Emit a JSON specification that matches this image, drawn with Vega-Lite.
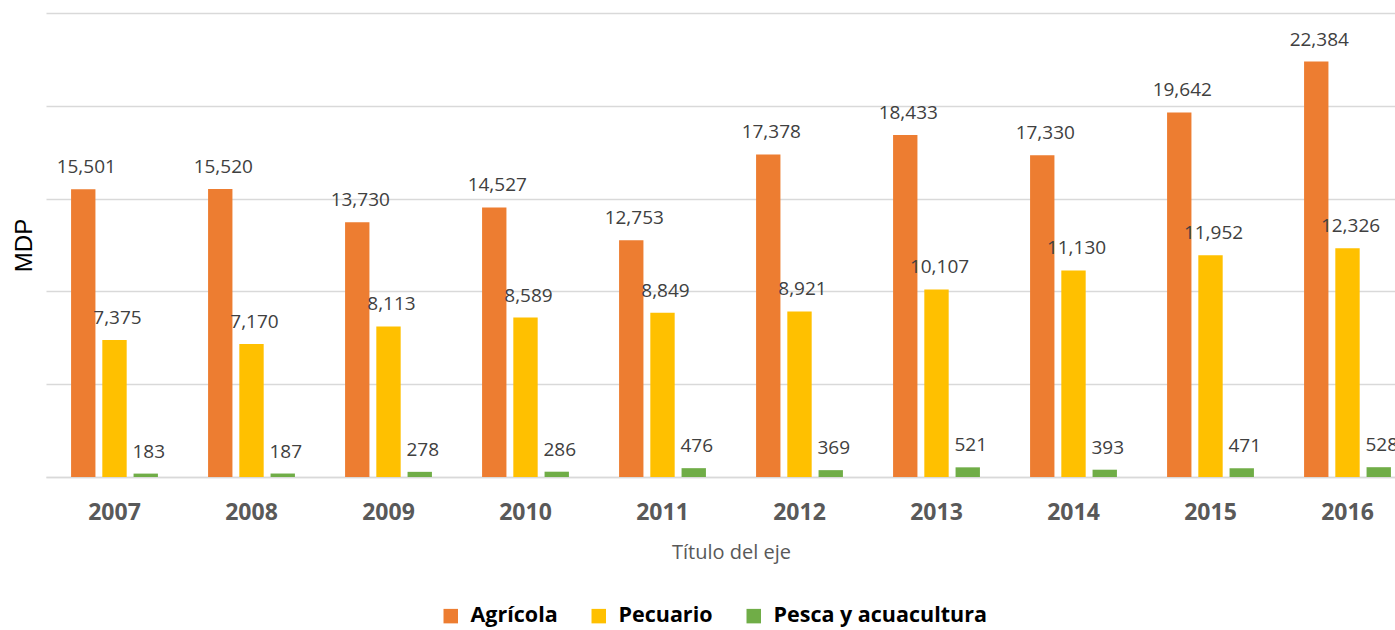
{
  "$schema": "https://vega.github.io/schema/vega-lite/v6.json",
  "width": 1349,
  "height": 464,
  "autosize": {"type": "none"},
  "padding": {"left": 46, "top": 13, "right": 0, "bottom": 153},
  "background": "white",
  "config": {
    "view": {"stroke": null},
    "font": "Open Sans"
  },
  "data": {
    "values": [
      {"year": "2007", "serie": "Agrícola", "value": 15501},
      {"year": "2007", "serie": "Pecuario", "value": 7375},
      {"year": "2007", "serie": "Pesca y acuacultura", "value": 183},
      {"year": "2008", "serie": "Agrícola", "value": 15520},
      {"year": "2008", "serie": "Pecuario", "value": 7170},
      {"year": "2008", "serie": "Pesca y acuacultura", "value": 187},
      {"year": "2009", "serie": "Agrícola", "value": 13730},
      {"year": "2009", "serie": "Pecuario", "value": 8113},
      {"year": "2009", "serie": "Pesca y acuacultura", "value": 278},
      {"year": "2010", "serie": "Agrícola", "value": 14527},
      {"year": "2010", "serie": "Pecuario", "value": 8589},
      {"year": "2010", "serie": "Pesca y acuacultura", "value": 286},
      {"year": "2011", "serie": "Agrícola", "value": 12753},
      {"year": "2011", "serie": "Pecuario", "value": 8849},
      {"year": "2011", "serie": "Pesca y acuacultura", "value": 476},
      {"year": "2012", "serie": "Agrícola", "value": 17378},
      {"year": "2012", "serie": "Pecuario", "value": 8921},
      {"year": "2012", "serie": "Pesca y acuacultura", "value": 369},
      {"year": "2013", "serie": "Agrícola", "value": 18433},
      {"year": "2013", "serie": "Pecuario", "value": 10107},
      {"year": "2013", "serie": "Pesca y acuacultura", "value": 521},
      {"year": "2014", "serie": "Agrícola", "value": 17330},
      {"year": "2014", "serie": "Pecuario", "value": 11130},
      {"year": "2014", "serie": "Pesca y acuacultura", "value": 393},
      {"year": "2015", "serie": "Agrícola", "value": 19642},
      {"year": "2015", "serie": "Pecuario", "value": 11952},
      {"year": "2015", "serie": "Pesca y acuacultura", "value": 471},
      {"year": "2016", "serie": "Agrícola", "value": 22384},
      {"year": "2016", "serie": "Pecuario", "value": 12326},
      {"year": "2016", "serie": "Pesca y acuacultura", "value": 528}
    ]
  },
  "encoding": {
    "x": {
      "field": "year",
      "type": "nominal",
      "scale": {"range": [0, 1370], "paddingInner": 0.366, "paddingOuter": 0.183},
      "axis": {
        "title": "Título del eje",
        "labelAngle": 0,
        "ticks": false,
        "domain": true,
        "domainColor": "#d9d9d9",
        "domainWidth": 1.5,
        "labelFont": "Open Sans",
        "labelFontWeight": "bold",
        "labelFontSize": 23,
        "labelColor": "#595959",
        "labelPadding": 24,
        "titleFont": "Open Sans",
        "titleFontSize": 20,
        "titleFontWeight": "normal",
        "titleColor": "#595959",
        "titlePadding": 18
      }
    },
    "xOffset": {
      "field": "serie",
      "type": "nominal",
      "sort": ["Agrícola", "Pecuario", "Pesca y acuacultura"],
      "scale": {"paddingInner": 0.22, "paddingOuter": 0}
    },
    "y": {
      "field": "value",
      "type": "quantitative",
      "scale": {"domain": [0, 25000], "nice": false},
      "axis": {
        "title": "MDP",
        "values": [0, 5000, 10000, 15000, 20000, 25000],
        "labels": false,
        "ticks": false,
        "domain": false,
        "grid": true,
        "gridColor": "#d9d9d9",
        "gridWidth": 1.5,
        "titleFont": "Liberation Sans",
        "titleFontSize": 24,
        "titleFontWeight": "normal",
        "titleColor": "#000000",
        "titlePadding": 10
      }
    }
  },
  "layer": [
    {
      "mark": {"type": "bar"},
      "encoding": {
        "color": {
          "field": "serie",
          "type": "nominal",
          "scale": {
            "domain": ["Agrícola", "Pecuario", "Pesca y acuacultura"],
            "range": ["#ED7D31", "#FFC000", "#70AD47"]
          },
          "legend": {
            "title": null,
            "orient": "none",
            "legendX": 394,
            "legendY": 592,
            "direction": "horizontal",
            "symbolType": "square",
            "symbolSize": 210,
            "symbolStrokeWidth": 0,
            "labelFont": "Open Sans",
            "labelFontSize": 21.5,
            "labelFontWeight": "bold",
            "labelColor": "#000000",
            "labelLimit": 0,
            "labelOffset": 9,
            "columnPadding": 30
          }
        }
      }
    },
    {
      "mark": {"type": "text", "baseline": "alphabetic", "dy": -16, "dx": 3, "font": "Open Sans", "fontSize": 19, "color": "#404040"},
      "encoding": {
        "text": {"field": "value", "type": "quantitative", "format": ",d"}
      }
    }
  ]
}
